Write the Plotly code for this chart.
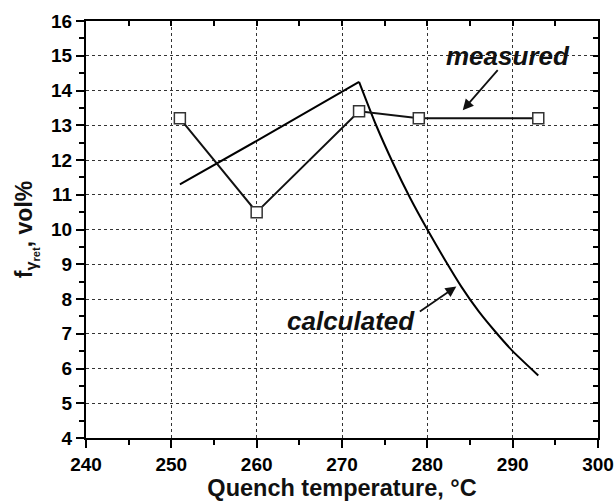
import plotly.graph_objects as go

# Measured data
meas_x = [251, 260, 272, 279, 293]
meas_y = [13.2, 10.5, 13.4, 13.2, 13.2]

# Calculated curve
calc_x = [251, 260, 272, 274, 276, 278, 280, 282, 284, 286, 288, 290, 293]
calc_y = [11.3, 12.55, 14.25, 13.0, 11.9, 10.9, 10.0, 9.15, 8.35, 7.65, 7.05, 6.5, 5.8]

x_ticks = [240, 250, 260, 270, 280, 290, 300]
y_ticks = [4, 5, 6, 7, 8, 9, 10, 11, 12, 13, 14, 15, 16]

FONT = "Liberation Sans"

fig = go.Figure()
fig.add_trace(go.Scatter(x=calc_x[:3], y=calc_y[:3], mode="lines",
                         line=dict(color="black", width=2), showlegend=False, hoverinfo="skip"))
fig.add_trace(go.Scatter(x=calc_x[2:], y=calc_y[2:], mode="lines",
                         line=dict(color="black", width=2, shape="spline", smoothing=0.6),
                         showlegend=False, hoverinfo="skip"))
fig.add_trace(go.Scatter(x=meas_x, y=meas_y, mode="lines+markers",
                         line=dict(color="#111111", width=2),
                         marker=dict(symbol="square", size=11, color="white",
                                     line=dict(color="#333333", width=1.5)),
                         showlegend=False, hoverinfo="skip"))
# dummy trace for overlay axes (top / right inward ticks)
fig.add_trace(go.Scatter(x=[240], y=[4], xaxis="x2", yaxis="y2", mode="markers",
                         marker=dict(opacity=0), showlegend=False, hoverinfo="skip"))

axis_common = dict(showline=True, linecolor="black", linewidth=2, zeroline=False,
                   automargin=False)

fig.update_layout(
    width=614, height=501,
    margin=dict(l=86, r=16, t=21, b=63),
    plot_bgcolor="white", paper_bgcolor="white",
    font=dict(family=FONT, color="#111111"),
    xaxis=dict(range=[240, 300], tickvals=x_ticks,
               ticktext=[f"<b>{v}</b>" for v in x_ticks],
               ticks="outside", ticklen=8, tickwidth=1.5, tickcolor="black",
               minor=dict(dtick=5, ticks="outside", ticklen=5, tickwidth=1.5, tickcolor="black",
                          showgrid=False),
               showgrid=True, gridcolor="#333333", griddash="dot", gridwidth=1,
               tickfont=dict(size=19, family=FONT, color="black", weight="bold"),
               title=dict(text="<b>Quench temperature, °C</b>", font=dict(size=23.5, family=FONT),
                          standoff=4),
               **axis_common),
    yaxis=dict(range=[4, 16], tickvals=y_ticks,
               ticktext=[f"<b>{v}</b>" for v in y_ticks],
               ticks="outside", ticklen=8, tickwidth=1.5, tickcolor="black",
               minor=dict(dtick=0.5, ticks="outside", ticklen=5, tickwidth=1.5, tickcolor="black",
                          showgrid=False),
               showgrid=True, gridcolor="#333333", griddash="dot", gridwidth=1,
               tickfont=dict(size=19, family=FONT, color="black", weight="bold"),
               title=dict(text="<b>f<sub>γ<sub>ret</sub></sub>, vol%</b>",
                          font=dict(size=23, family=FONT), standoff=12),
               **axis_common),
    xaxis2=dict(range=[240, 300], overlaying="x", side="top", tickvals=x_ticks,
                ticks="inside", ticklen=5, tickwidth=1.5, tickcolor="black",
                minor=dict(dtick=5, ticks="inside", ticklen=5, tickwidth=1.5, tickcolor="black"),
                showticklabels=False, showgrid=False, **axis_common),
    yaxis2=dict(range=[4, 16], overlaying="y", side="right", tickvals=y_ticks,
                ticks="inside", ticklen=5, tickwidth=1.5, tickcolor="black",
                minor=dict(dtick=0.5, ticks="inside", ticklen=5, tickwidth=1.5, tickcolor="black"),
                showticklabels=False, showgrid=False, **axis_common),
)

# Text labels
fig.add_annotation(x=289.5, y=14.98, text="<b><i>measured</i></b>", showarrow=False,
                   font=dict(size=26, family=FONT, color="#111111"))
fig.add_annotation(x=271.0, y=7.38, text="<b><i>calculated</i></b>", showarrow=False,
                   font=dict(size=26, family=FONT, color="#111111"))
# Arrows
fig.add_annotation(x=284.15, y=13.43, ax=288.4, ay=14.63, axref="x", ayref="y",
                   xref="x", yref="y", text="", showarrow=True, arrowhead=2,
                   arrowsize=1.2, arrowwidth=1.8, arrowcolor="#111111")
fig.add_annotation(x=283.4, y=8.36, ax=278.95, ay=7.61, axref="x", ayref="y",
                   xref="x", yref="y", text="", showarrow=True, arrowhead=2,
                   arrowsize=1.2, arrowwidth=1.8, arrowcolor="#111111")

fig.write_html("out.html")
